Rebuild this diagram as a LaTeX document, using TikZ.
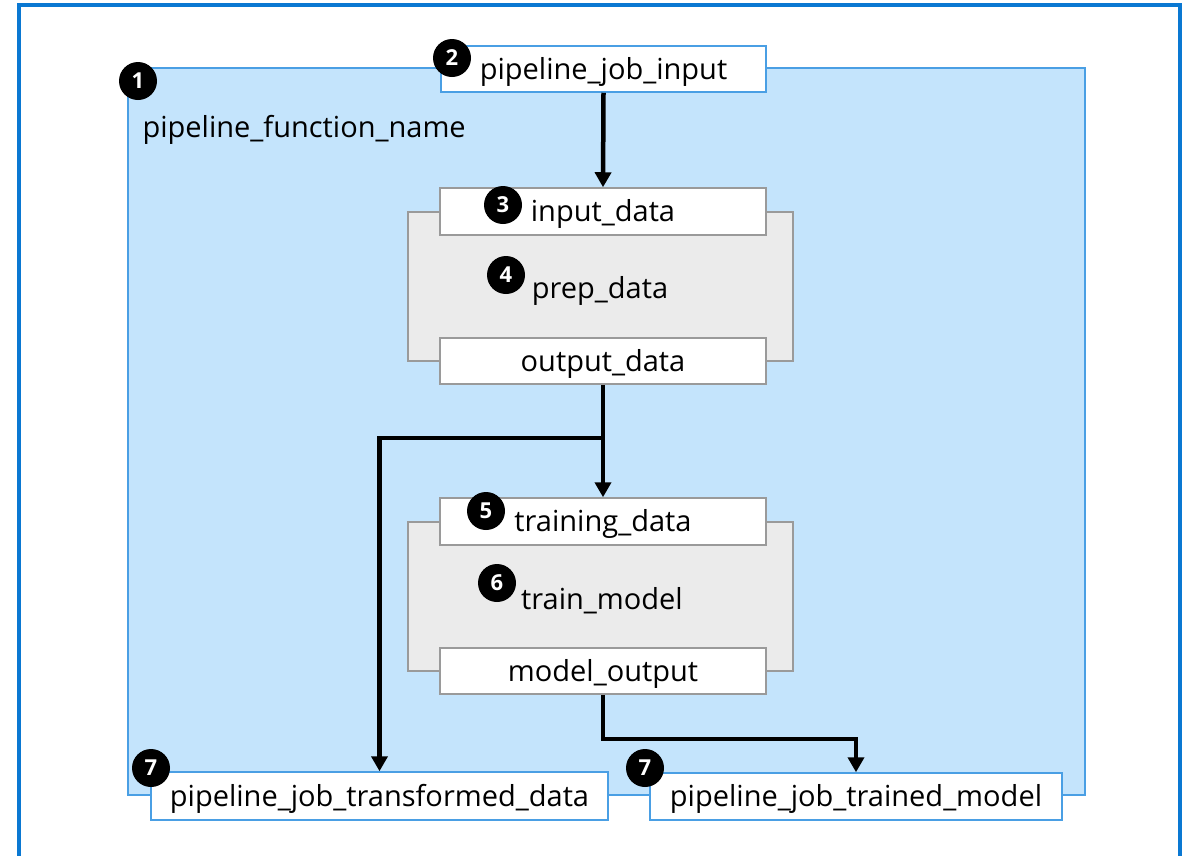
\documentclass[tikz,border=0pt]{standalone}
\usepackage{fontspec}
\setmainfont{Open Sans}
\usetikzlibrary{arrows.meta}
\definecolor{frameblue}{HTML}{0A78D2}
\definecolor{pipefill}{HTML}{C4E4FC}
\definecolor{pipeline}{HTML}{4A9FE4}
\definecolor{grayfill}{HTML}{EBEBEB}
\definecolor{grayline}{HTML}{9A9A9A}
\tikzset{
  lbl/.style={font=\fontsize{29}{34}\selectfont, text=black, text depth=2pt},
  bluebox/.style={draw=pipeline, line width=1.5pt, fill=white, inner sep=0pt},
  portbox/.style={draw=grayline, line width=1.5pt, fill=white, inner sep=0pt},
  stepbox/.style={draw=grayline, line width=1.5pt, fill=grayfill, inner sep=0pt},
  badge/.style={circle, fill=black, minimum size=38pt, inner sep=0pt, text=white, font=\fontsize{22}{24}\selectfont\bfseries},
  flow/.style={line width=4.5pt, -{Triangle[length=15pt,width=16pt]}},
}
\begin{document}
\begin{tikzpicture}[x=1pt,y=-1pt]
\useasboundingbox (0,0) rectangle (1193,855);
\fill[white] (0,0) rectangle (1193,855);
\draw[frameblue, line width=4pt] (19,900) -- (19,5) -- (1180,5) -- (1180,900);
% pipeline container
\node[draw=pipeline, line width=1.5pt, fill=pipefill, minimum width=957pt, minimum height=727pt, inner sep=0pt] (pipe) at (606.5,431.5) {};
\node[badge] (b1) at (138,81) {1};
\node[lbl, anchor=west] (pname) at (139,127) {pipeline\_function\_name};
% job input
\node[bluebox, minimum width=325pt, minimum height=46pt, lbl] (jobin) at (603.5,69) {pipeline\_job\_input};
\node[badge] (b2) at (452,58) {2};
% prep_data step
\node[stepbox, minimum width=385pt, minimum height=149pt] (prep) at (600.5,286.5) {};
\node[portbox, minimum width=326pt, minimum height=47pt, lbl] (indata) at (603,211.5) {input\_data};
\node[badge] (b3) at (503,205) {3};
\node[lbl] (preplbl) at (600,288) {prep\_data};
\node[badge] (b4) at (506,275) {4};
\node[portbox, minimum width=326pt, minimum height=46pt, lbl] (outdata) at (603,361) {output\_data};
% train_model step
\node[stepbox, minimum width=385pt, minimum height=149pt] (train) at (600.5,596.5) {};
\node[portbox, minimum width=326pt, minimum height=47pt, lbl] (trdata) at (603,521.5) {training\_data};
\node[badge] (b5) at (486,511) {5};
\node[lbl] (trainlbl) at (602,599) {train\_model};
\node[badge] (b6) at (497,583) {6};
\node[portbox, minimum width=326pt, minimum height=46pt, lbl] (modout) at (603,671) {model\_output};
% outputs
\node[bluebox, minimum width=457pt, minimum height=48pt, lbl] (tdata) at (379.5,796) {pipeline\_job\_transformed\_data};
\node[badge] (b7a) at (151,768) {7};
\node[bluebox, minimum width=412pt, minimum height=47pt, lbl] (tmodel) at (856,796.5) {pipeline\_job\_trained\_model};
\node[badge] (b7b) at (645,768) {7};
% connectors
\draw[flow] (jobin.south) -- (indata.north);
\draw[flow] (outdata.south) -- (trdata.north);
\coordinate (br) at (603,438);
\draw[flow] (br) -| (tdata.north);
\draw[flow] (modout.south) -- ++(0,44) -| (tmodel.north);
\end{tikzpicture}
\end{document}
